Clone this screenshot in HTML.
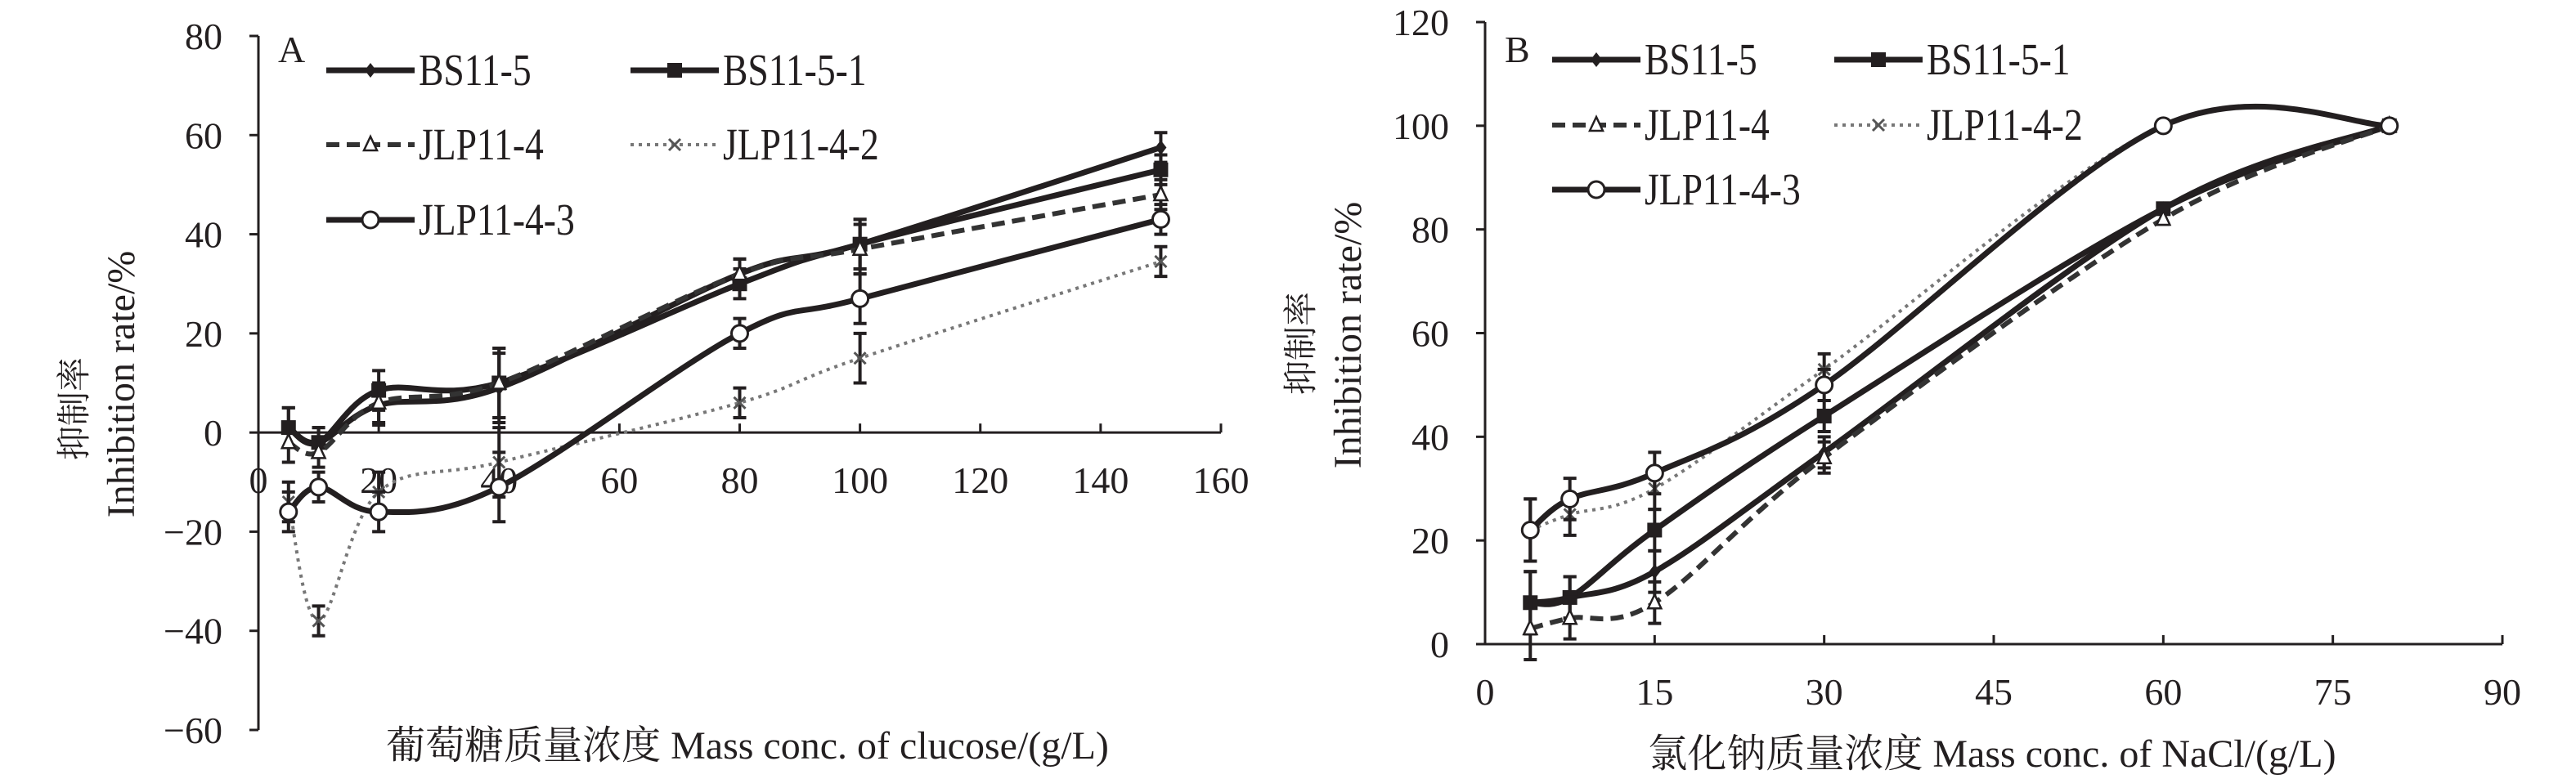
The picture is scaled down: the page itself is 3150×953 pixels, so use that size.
<!DOCTYPE html>
<html><head><meta charset="utf-8"><style>
html,body{margin:0;padding:0;background:#fff;}
svg{display:block;}
text{font-family:"Liberation Serif","Noto Serif CJK SC",serif;fill:#231f20;}
</style></head><body>
<svg id="chart" width="3150" height="953" viewBox="0 0 3150 953" xmlns="http://www.w3.org/2000/svg"></svg>
<script>
// ---- Panel A data ----
const xA = [5, 10, 20, 40, 80, 100, 150];
const a_bs115 = [1, -2, 5.5, 9, 32, 38, 57.5];
const a_bs1151 = [1, -2, 8.5, 10, 30, 38, 53];
const a_jlp114 = [-2, -4, 6, 10, 32, 37, 48];
const a_jlp1142 = [-14, -38, -12, -6, 6, 15, 34.5];
const a_jlp1143 = [-16, -11, -16, -11, 20, 27, 43];
const a_err = [4, 3, 4, 7, 3, 5, 3];
const xTicksA = [0, 20, 40, 60, 80, 100, 120, 140, 160];
const yTicksA = [-60, -40, -20, 0, 20, 40, 60, 80];
// ---- Panel B data ----
const xB = [4, 7.5, 15, 30, 60, 80];
const b_bs115 = [8, 9, 14, 37, 84, 100];
const b_bs1151 = [8, 9, 22, 44, 84, 100];
const b_jlp114 = [3, 5, 8, 36, 82, 100];
const b_jlp1142 = [22, 25, 30, 53, 100, 100];
const b_jlp1143 = [22, 28, 33, 50, 100, 100];
const b_err = [6, 4, 4, 3, 1, 0.5];
const xTicksB = [0, 15, 30, 45, 60, 75, 90];
const yTicksB = [0, 20, 40, 60, 80, 100, 120];
const seriesNames = ['BS11-5', 'BS11-5-1', 'JLP11-4', 'JLP11-4-2', 'JLP11-4-3'];

const NS = 'http://www.w3.org/2000/svg';
const svg = document.getElementById('chart');
function mk(tag, attrs, parent) {
  const e = document.createElementNS(NS, tag);
  for (const k in attrs) e.setAttribute(k, attrs[k]);
  (parent || svg).appendChild(e);
  return e;
}
function smoothPath(pts) {
  let d = 'M' + pts[0][0] + ',' + pts[0][1];
  for (let i = 0; i < pts.length - 1; i++) {
    const p0 = pts[i - 1] || pts[i], p1 = pts[i], p2 = pts[i + 1], p3 = pts[i + 2] || p2;
    const c1 = [p1[0] + (p2[0] - p0[0]) / 6, p1[1] + (p2[1] - p0[1]) / 6];
    const c2 = [p2[0] - (p3[0] - p1[0]) / 6, p2[1] - (p3[1] - p1[1]) / 6];
    d += ' C' + c1 + ' ' + c2 + ' ' + p2;
  }
  return d;
}
const styles = [
  {dash: '', color: '#231f20', marker: 'diamond', w: 7},
  {dash: '', color: '#231f20', marker: 'square', w: 7},
  {dash: '16,9', color: '#333', marker: 'triangle', w: 6},
  {dash: '4,6', color: '#777', marker: 'x', w: 4},
  {dash: '', color: '#231f20', marker: 'circle', w: 7}
];
function marker(g, type, x, y) {
  if (type === 'diamond') mk('path', {d: `M${x},${y-9} L${x+7},${y} L${x},${y+9} L${x-7},${y} Z`, fill: '#231f20'}, g);
  else if (type === 'square') mk('rect', {x: x-9, y: y-9, width: 18, height: 18, fill: '#231f20'}, g);
  else if (type === 'triangle') mk('path', {d: `M${x},${y-10} L${x+8},${y+7} L${x-8},${y+7} Z`, fill: '#fff', stroke: '#231f20', 'stroke-width': 2.5}, g);
  else if (type === 'x') mk('path', {d: `M${x-7},${y-7} L${x+7},${y+7} M${x+7},${y-7} L${x-7},${y+7}`, stroke: '#555', 'stroke-width': 3}, g);
  else mk('circle', {cx: x, cy: y, r: 10, fill: '#fff', stroke: '#231f20', 'stroke-width': 3}, g);
}
function panel(cfg) {
  const sx = v => cfg.x0 + (v - cfg.xmin) / (cfg.xmax - cfg.xmin) * (cfg.x1 - cfg.x0);
  const sy = v => cfg.yTop + (cfg.ymax - v) / (cfg.ymax - cfg.ymin) * (cfg.yBot - cfg.yTop);
  const g = mk('g', {});
  
  
  const y0 = sy(cfg.xAxisAt);
  const ax = mk('path', {d: `M${sx(cfg.xmin)},${cfg.yTop} L${sx(cfg.xmin)},${cfg.yBot} M${sx(cfg.xmin)},${y0} L${sx(cfg.xmax)},${y0}`, stroke: '#231f20', 'stroke-width': 3, fill: 'none'}, g);
  
  
  cfg.yTicks.forEach(v => {
    mk('line', {x1: sx(cfg.xmin) - 11, x2: sx(cfg.xmin), y1: sy(v), y2: sy(v), stroke: '#231f20', 'stroke-width': 3}, g);
    const t = mk('text', {x: sx(cfg.xmin) - 44, y: sy(v) + 16, 'text-anchor': 'end', 'font-size': 46}, g);
    t.textContent = (v < 0 ? '\u2212' + (-v) : v);
    
    
  });
  cfg.xTicks.forEach(v => {
    mk('line', {x1: sx(v), x2: sx(v), y1: y0, y2: y0 - 11, stroke: '#231f20', 'stroke-width': 3}, g);
    const t = mk('text', {x: sx(v), y: cfg.xLabelY, 'text-anchor': 'middle', 'font-size': 46}, g);
    t.textContent = v;
    
    
  });
  cfg.series.forEach((vals, si) => {
    const st = styles[si];
    const sg = mk('g', {}, g);
    
    
    const pts = cfg.xs.map((x, i) => [sx(x), sy(vals[i])]);
    mk('path', {d: smoothPath(pts), fill: 'none', stroke: st.color, 'stroke-width': st.w, 'stroke-dasharray': st.dash}, sg);
    cfg.xs.forEach((x, i) => {
      const e = cfg.err[i];
      const px = sx(x), top = sy(vals[i] + e), bot = sy(vals[i] - e);
      mk('path', {d: `M${px},${top} L${px},${bot} M${px-8},${top} L${px+8},${top} M${px-8},${bot} L${px+8},${bot}`, stroke: '#231f20', 'stroke-width': 4}, sg);
      marker(sg, st.marker, px, sy(vals[i]));
    });
  });
  const lt = mk('text', {x: cfg.letter[0], y: cfg.letter[1], 'font-size': 46}, g);
  lt.textContent = cfg.letterText;
  
  
  seriesNames.forEach((n, i) => {
    const col = i % 2, row = Math.floor(i / 2);
    const lx = cfg.leg.cols[col], ly = cfg.leg.rows[row];
    const lg = mk('g', {}, g);
    
    
    const st = styles[i];
    mk('line', {x1: lx, x2: lx + 108, y1: ly, y2: ly, stroke: st.color, 'stroke-width': st.w, 'stroke-dasharray': st.dash}, lg);
    marker(lg, st.marker, lx + 54, ly);
    const t = mk('text', {x: 0, y: 0, 'font-size': 48, transform: `translate(${lx + 113},${ly + 18}) scale(0.95,1.15)`}, lg);
    t.textContent = n;
  });
  const xt = mk('text', {x: cfg.xTitle[0], y: cfg.xTitle[1], 'text-anchor': 'middle', 'font-size': 48}, g);
  xt.textContent = cfg.xTitleText;
  
  
  const yt1 = mk('text', {x: 0, y: 0, 'text-anchor': 'middle', 'font-size': 42, transform: `translate(${cfg.yTitle1[0]},${cfg.yTitle1[1]}) rotate(-90)`}, g);
  yt1.textContent = '抑制率';
  
  
  const yt2 = mk('text', {x: 0, y: 0, 'text-anchor': 'middle', 'font-size': 48, transform: `translate(${cfg.yTitle2[0]},${cfg.yTitle2[1]}) rotate(-90)`}, g);
  yt2.textContent = 'Inhibition rate/%';
  
  
}
panel({name: 'panel-a-glucose', x0: 316, x1: 1493, xmin: 0, xmax: 160, yTop: 44, yBot: 893, ymin: -60, ymax: 80, xAxisAt: 0,
  xTicks: xTicksA, yTicks: yTicksA, xLabelY: 603, xs: xA, err: a_err,
  series: [a_bs115, a_bs1151, a_jlp114, a_jlp1142, a_jlp1143],
  letter: [340, 76], letterText: 'A', leg: {cols: [399, 771], rows: [86, 177, 269]},
  xTitle: [914, 928], xTitleText: '葡萄糖质量浓度 Mass conc. of clucose/(g/L)',
  yTitle1: [105, 500], yTitle2: [164, 470]});
panel({name: 'panel-b-nacl', x0: 1816, x1: 3060, xmin: 0, xmax: 90, yTop: 27, yBot: 788, ymin: 0, ymax: 120, xAxisAt: 0,
  xTicks: xTicksB, yTicks: yTicksB, xLabelY: 862, xs: xB, err: b_err,
  series: [b_bs115, b_bs1151, b_jlp114, b_jlp1142, b_jlp1143],
  letter: [1840, 76], letterText: 'B', leg: {cols: [1898, 2243], rows: [73, 153, 232]},
  xTitle: [2436, 938], xTitleText: '氯化钠质量浓度 Mass conc. of NaCl/(g/L)',
  yTitle1: [1605, 420], yTitle2: [1664, 410]});
</script>
</body></html>
